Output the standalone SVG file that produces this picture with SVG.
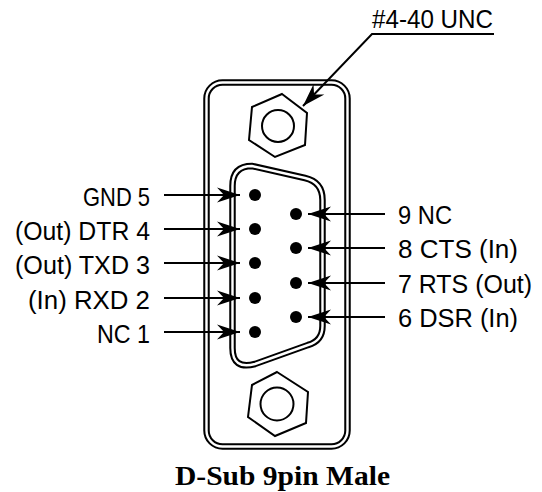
<svg xmlns="http://www.w3.org/2000/svg" width="542" height="492" viewBox="0 0 542 492">
<style>
.dbl-o{fill:none;stroke:#000;stroke-width:6.5}
.dbl-i{fill:none;stroke:#fff;stroke-width:2.4}
.thin{fill:none;stroke:#000;stroke-width:2}
.pin{fill:#000}
.conn{stroke:#000;stroke-width:2;fill:none;marker-end:url(#arr)}
.lbl{font-family:"Liberation Sans Narrow","Liberation Sans",sans-serif;font-size:25px;fill:#000}
.ttl{font-family:"Liberation Serif",serif;font-size:27px;font-weight:bold;fill:#000}
</style>
<defs>
<marker id="arr" viewBox="-24 -9 26 18" refX="0" refY="0" markerWidth="26" markerHeight="18" markerUnits="userSpaceOnUse" orient="auto">
<path d="M0,0 L-23,-7.5 L-16,0 L-23,7.5 Z" fill="#000"/>
</marker>
</defs>
<rect width="542" height="492" fill="#fff"/>
<g id="housing">
<rect class="dbl-o" x="206.5" y="82.5" width="141" height="364" rx="16"/>
<rect class="dbl-i" x="206.5" y="82.5" width="141" height="364" rx="16"/>
</g>
<g id="screw-top">
<polygon class="thin" points="282,94 307,113 305,145 275,157 249,140 252,107"/>
<circle class="thin" cx="278" cy="126" r="16"/>
</g>
<g id="screw-bottom">
<polygon class="thin" points="277,372 308,392 306,423 275,436 248,417 252,385"/>
<circle class="thin" cx="277" cy="404" r="16.5"/>
</g>
<g id="shell">
<path class="dbl-o" d="M232.5,348 L232.5,186 Q232.5,166 252,166 L305,178 Q322.5,182 322.5,200 L322.5,326 Q322.5,341 308,345 L255,364 Q232.5,370 232.5,348 Z"/>
<path class="dbl-i" d="M232.5,348 L232.5,186 Q232.5,166 252,166 L305,178 Q322.5,182 322.5,200 L322.5,326 Q322.5,341 308,345 L255,364 Q232.5,370 232.5,348 Z"/>
</g>
<g id="pins">
<circle class="pin" cx="255" cy="195" r="6"/>
<circle class="pin" cx="255" cy="229" r="6"/>
<circle class="pin" cx="255" cy="263" r="6"/>
<circle class="pin" cx="255" cy="298" r="6"/>
<circle class="pin" cx="255" cy="332" r="6"/>
<circle class="pin" cx="296" cy="214" r="6"/>
<circle class="pin" cx="296" cy="248" r="6"/>
<circle class="pin" cx="296" cy="283" r="6"/>
<circle class="pin" cx="296" cy="317" r="6"/>
</g>
<g id="connectors">
<line class="conn" x1="164" y1="195" x2="240" y2="195"/>
<line class="conn" x1="164" y1="229" x2="240" y2="229"/>
<line class="conn" x1="164" y1="263" x2="240" y2="263"/>
<line class="conn" x1="164" y1="298" x2="240" y2="298"/>
<line class="conn" x1="164" y1="332" x2="240" y2="332"/>
<line class="conn" x1="385" y1="214" x2="308" y2="214"/>
<line class="conn" x1="385" y1="248" x2="308" y2="248"/>
<line class="conn" x1="385" y1="283" x2="308" y2="283"/>
<line class="conn" x1="385" y1="317" x2="308" y2="317"/>
<polyline class="conn" points="494,34 372,34 303,106"/>
</g>
<g id="labels-left">
<text class="lbl" x="150" y="206" text-anchor="end" textLength="67" lengthAdjust="spacingAndGlyphs">GND 5</text>
<text class="lbl" x="150" y="240" text-anchor="end" textLength="135" lengthAdjust="spacingAndGlyphs">(Out) DTR 4</text>
<text class="lbl" x="150" y="274" text-anchor="end" textLength="135" lengthAdjust="spacingAndGlyphs">(Out) TXD 3</text>
<text class="lbl" x="150" y="309" text-anchor="end" textLength="122" lengthAdjust="spacingAndGlyphs">(In) RXD 2</text>
<text class="lbl" x="150" y="343" text-anchor="end" textLength="53" lengthAdjust="spacingAndGlyphs">NC 1</text>
</g>
<g id="labels-right">
<text class="lbl" x="398" y="224" textLength="54" lengthAdjust="spacingAndGlyphs">9 NC</text>
<text class="lbl" x="398" y="258" textLength="120" lengthAdjust="spacingAndGlyphs">8 CTS (In)</text>
<text class="lbl" x="398" y="293" textLength="134" lengthAdjust="spacingAndGlyphs">7 RTS (Out)</text>
<text class="lbl" x="398" y="327" textLength="120" lengthAdjust="spacingAndGlyphs">6 DSR (In)</text>
</g>
<g id="thread-label">
<text class="lbl" x="372" y="28" textLength="121" lengthAdjust="spacingAndGlyphs">#4-40 UNC</text>
</g>
<g id="title">
<text class="ttl" x="175" y="485" textLength="215" lengthAdjust="spacingAndGlyphs">D-Sub 9pin Male</text>
</g>
</svg>
